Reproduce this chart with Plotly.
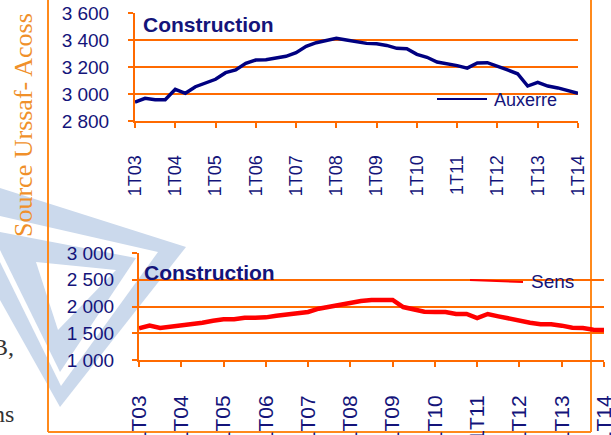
import plotly.graph_objects as go

# ---------------- data ----------------
years = ["03", "04", "05", "06", "07", "08", "09", "10", "11", "12", "13", "14"]
quarters = [f"{q}T{y}" for y in years for q in (1, 2, 3, 4)][:45]
tick_labels = [f"1T{y}" for y in years]

auxerre = [2939, 2968, 2958, 2958, 3035, 3005, 3054, 3081, 3109, 3158, 3178, 3227,
           3252, 3254, 3267, 3279, 3306, 3353, 3380, 3395, 3412, 3400, 3385, 3375,
           3372, 3360, 3338, 3336, 3294, 3272, 3237, 3225, 3210, 3192, 3230, 3232,
           3202, 3178, 3150, 3059, 3087, 3059, 3045, 3024, 3005]
sens = [1592, 1642, 1598, 1623, 1636, 1667, 1698, 1735, 1760, 1760, 1791, 1791,
        1797, 1828, 1847, 1860, 1897, 1959, 1997, 2015, 2065, 2103, 2122, 2122,
        2122, 1990, 1941, 1903, 1897, 1897, 1860, 1860, 1785, 1860, 1816, 1772,
        1735, 1698, 1667, 1667, 1642, 1604, 1598, 1567, 1561]

top_ticks = [2800, 3000, 3200, 3400, 3600]
top_ticktext = ["2\u00a0800", "3\u00a0000", "3\u00a0200", "3\u00a0400", "3\u00a0600"]
bot_ticks = [1000, 1500, 2000, 2500, 3000]
bot_ticktext = ["1\u00a0000", "1\u00a0500", "2\u00a0000", "2\u00a0500", "3\u00a0000"]

# ---------------- layout helpers ----------------
W, H = 611, 435
def px(x):
    return x / W
def py(y):
    return 1 - y / H

NAVY = "#14147a"
GRID = "#ff6a00"
FRAME = "#ff8a1c"
FONT = "Liberation Sans, Arial, sans-serif"

fig = go.Figure()
fig.add_trace(go.Scatter(x=quarters, y=auxerre, mode="lines", xaxis="x", yaxis="y",
                         line=dict(color="#000080", width=3.5), showlegend=False,
                         hoverinfo="skip"))
fig.add_trace(go.Scatter(x=quarters, y=sens, mode="lines", xaxis="x2", yaxis="y2",
                         line=dict(color="#ff0000", width=4.5), showlegend=False,
                         hoverinfo="skip"))

def xaxis(domain, anchor, fsize, standoff):
    return dict(domain=domain, anchor=anchor, type="category", range=[0, 44],
                tickmode="array", tickvals=[quarters[i] for i in range(0, 45, 4)],
                ticktext=tick_labels, tickangle=-90, ticks="outside", ticklen=5,
                tickwidth=2, tickcolor=GRID, showline=True, linecolor=GRID,
                linewidth=2, showgrid=False, zeroline=False,
                tickfont=dict(family=FONT, size=fsize, color=NAVY),
                ticklabelstandoff=standoff)

def yaxis(domain, anchor, rng, tv, tt, standoff):
    return dict(domain=domain, anchor=anchor, range=rng, tickmode="array",
                tickvals=tv, ticktext=tt, ticks="outside", ticklen=5, tickwidth=2,
                tickcolor=GRID, showline=True, linecolor=GRID, linewidth=2,
                showgrid=True, gridcolor=GRID, gridwidth=2, zeroline=False,
                tickfont=dict(family=FONT, size=19, color=NAVY),
                ticklabelstandoff=standoff)

fig.update_layout(
    width=W, height=H,
    margin=dict(l=0, r=0, t=0, b=0, pad=0, autoexpand=False),
    paper_bgcolor="white", plot_bgcolor="rgba(0,0,0,0)",
    xaxis=xaxis([px(135), px(578)], "y", 18, 20),
    yaxis=yaxis([py(121), py(13)], "x", [2800, 3600], top_ticks, top_ticktext, 15),
    xaxis2=xaxis([px(139), px(604)], "y2", 21, 20),
    yaxis2=yaxis([py(360), py(253)], "x2", [1000, 3000], bot_ticks, bot_ticktext, 14),
)

shapes = []
WM = "#cbd9ec"
def poly(pts, color):
    d = "M " + " L ".join(f"{px(x)} {py(y)}" for x, y in pts) + " Z"
    return dict(type="path", path=d, xref="paper", yref="paper", fillcolor=color,
                line=dict(width=0), layer="below")

# watermark (light blue logo)
shapes.append(poly([(0, 188), (186, 247), (60, 407), (0, 300)], WM))
shapes.append(poly([(0, 216), (158, 252), (61, 386), (0, 262)], "white"))
shapes.append(poly([(0, 232), (136, 258), (60, 372), (0, 250)], WM))
shapes.append(poly([(36, 262), (116, 270), (58, 330)], "white"))

# frame lines
for x0, y0, x1, y1 in [(48, 0, 48, 432), (48, 432, 591, 432), (591, 0, 591, 432)]:
    shapes.append(dict(type="line", xref="paper", yref="paper", x0=px(x0), y0=py(y0),
                       x1=px(x1), y1=py(y1), line=dict(color=FRAME, width=2),
                       layer="below"))

# legend samples
shapes.append(dict(type="line", xref="paper", yref="paper", x0=px(437), y0=py(99),
                   x1=px(487), y1=py(99), line=dict(color="#000080", width=2)))
shapes.append(dict(type="line", xref="paper", yref="paper", x0=px(470), y0=py(280),
                   x1=px(523), y1=py(282), line=dict(color="#ff0000", width=2)))
fig.update_layout(shapes=shapes)

ann = []
def text(x, y, s, size, color, family=FONT, xanchor="left", angle=0, bold=False):
    ann.append(dict(x=px(x), y=py(y), xref="paper", yref="paper", text=f"<b>{s}</b>" if bold else s,
                    showarrow=False, xanchor=xanchor, yanchor="middle", textangle=angle,
                    font=dict(family=family, size=size, color=color)))

text(141, 24, "Construction", 21, NAVY, bold=True)
text(142, 272, "Construction", 21, NAVY, bold=True)
text(492, 100, "Auxerre", 18, NAVY)
text(529, 281, "Sens", 19, NAVY)
text(24, 125, "Source Urssaf- Acoss", 26, "#f0902a",
     family="Liberation Serif, Times New Roman, serif", xanchor="center", angle=-90)
text(16, 347, "B,", 24, "#333333", family="Liberation Serif, Times New Roman, serif",
     xanchor="right")
text(16, 414, "ns", 24, "#333333", family="Liberation Serif, Times New Roman, serif",
     xanchor="right")
fig.update_layout(annotations=ann)

fig.write_html("out.html",
               config={"displayModeBar": False},
               post_script="document.body.style.margin='0';"
                           "document.body.style.overflow='hidden';")
